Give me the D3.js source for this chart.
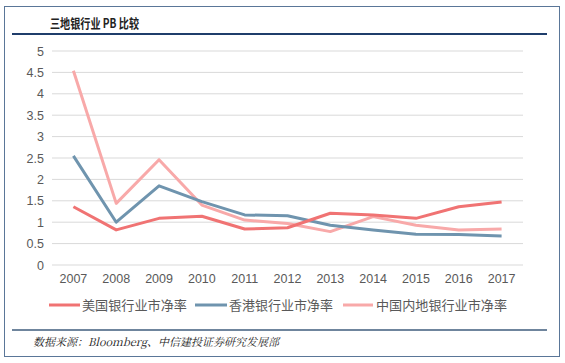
<!DOCTYPE html>
<html><head><meta charset="utf-8">
<script src="https://cdn.jsdelivr.net/npm/d3@7"></script>
<style>body{margin:0;background:#fff}svg{display:block}</style>
</head><body><svg id="c" width="565" height="363"></svg>
<script>
const years = ["2007","2008","2009","2010","2011","2012","2013","2014","2015","2016","2017"];
const usPB = [1.36,0.82,1.09,1.14,0.84,0.87,1.21,1.17,1.09,1.36,1.47];
const hkPB = [2.55,1.0,1.85,1.48,1.17,1.15,0.93,0.82,0.72,0.71,0.68];
const cnPB = [4.54,1.44,2.46,1.40,1.05,0.97,0.78,1.13,0.93,0.82,0.84];
const yTicks = [0,0.5,1,1.5,2,2.5,3,3.5,4,4.5,5];
const seriesNames = ["美国银行业市净率","香港银行业市净率","中国内地银行业市净率"];
const colors = ["#f07373","#6f94ae","#f8a9a9"];

const svg = d3.select("#c");
const font = "'Liberation Sans', Arial, sans-serif";
const cjk = "'Noto Sans CJK SC', sans-serif";

// frame
svg.append("rect").attr("x",4.5).attr("y",6.5).attr("width",555).attr("height",350)
  .attr("fill","none").attr("stroke","#5a7698").attr("stroke-width",1);
svg.append("text").attr("x",50).attr("y",28).attr("font-family",cjk).attr("font-size",13)
  .attr("font-weight","bold").attr("fill","#222")
  .attr("textLength",89).attr("lengthAdjust","spacingAndGlyphs").text("三地银行业 PB 比较");
svg.append("line").attr("x1",12).attr("x2",547).attr("y1",34).attr("y2",34)
  .attr("stroke","#1f3d6b").attr("stroke-width",2.2);
svg.append("line").attr("x1",12).attr("x2",547).attr("y1",330).attr("y2",330)
  .attr("stroke","#3f5c7c").attr("stroke-width",1.6);
svg.append("text").attr("x",33).attr("y",346).attr("font-family","'Noto Serif CJK SC','Liberation Serif',serif")
  .attr("font-style","italic").attr("font-size",11).attr("fill","#222")
  .text("数据来源：Bloomberg、中信建投证券研究发展部");

const x = d3.scaleBand().domain(years).range([52,523]);
const y = d3.scaleLinear().domain([0,5]).range([265,51]);

// grid
svg.append("g").selectAll("line").data(yTicks).join("line")
  .attr("x1",52).attr("x2",523).attr("y1",d=>y(d)).attr("y2",d=>y(d))
  .attr("stroke","#d9d9d9").attr("stroke-width",1);

const yAxis = svg.append("g").attr("transform","translate(52,0)")
  .call(d3.axisLeft(y).tickValues(yTicks).tickSize(0).tickPadding(8).tickFormat(d3.format("")));
yAxis.select(".domain").remove();
yAxis.selectAll("text").attr("font-family",font).attr("font-size",12.5).attr("fill","#595959");

const xAxis = svg.append("g").attr("transform","translate(0,265)")
  .call(d3.axisBottom(x).tickSize(0).tickPadding(9));
xAxis.select(".domain").remove();
xAxis.selectAll("text").attr("font-family",font).attr("font-size",12.5).attr("fill","#595959");

const line = d3.line().x((d,i)=>x(years[i])+x.bandwidth()/2).y(d=>y(d));
const data = [usPB,hkPB,cnPB];
[2,1,0].forEach(k=>{
  svg.append("path").attr("d",line(data[k])).attr("fill","none")
    .attr("stroke",colors[k]).attr("stroke-width",3).attr("stroke-linejoin","round");
});

// legend
const legLine = [[49,80],[195,227],[343,373]];
const legText = [[82,105],[229,104],[376,131]];
seriesNames.forEach((n,i)=>{
  svg.append("line").attr("x1",legLine[i][0]).attr("x2",legLine[i][1]).attr("y1",305).attr("y2",305)
    .attr("stroke",colors[i]).attr("stroke-width",3);
  svg.append("text").attr("x",legText[i][0]).attr("y",309.5).attr("font-family",cjk)
    .attr("font-size",13).attr("fill","#595959")
    .attr("textLength",legText[i][1]).attr("lengthAdjust","spacingAndGlyphs").text(n);
});
</script></body></html>
